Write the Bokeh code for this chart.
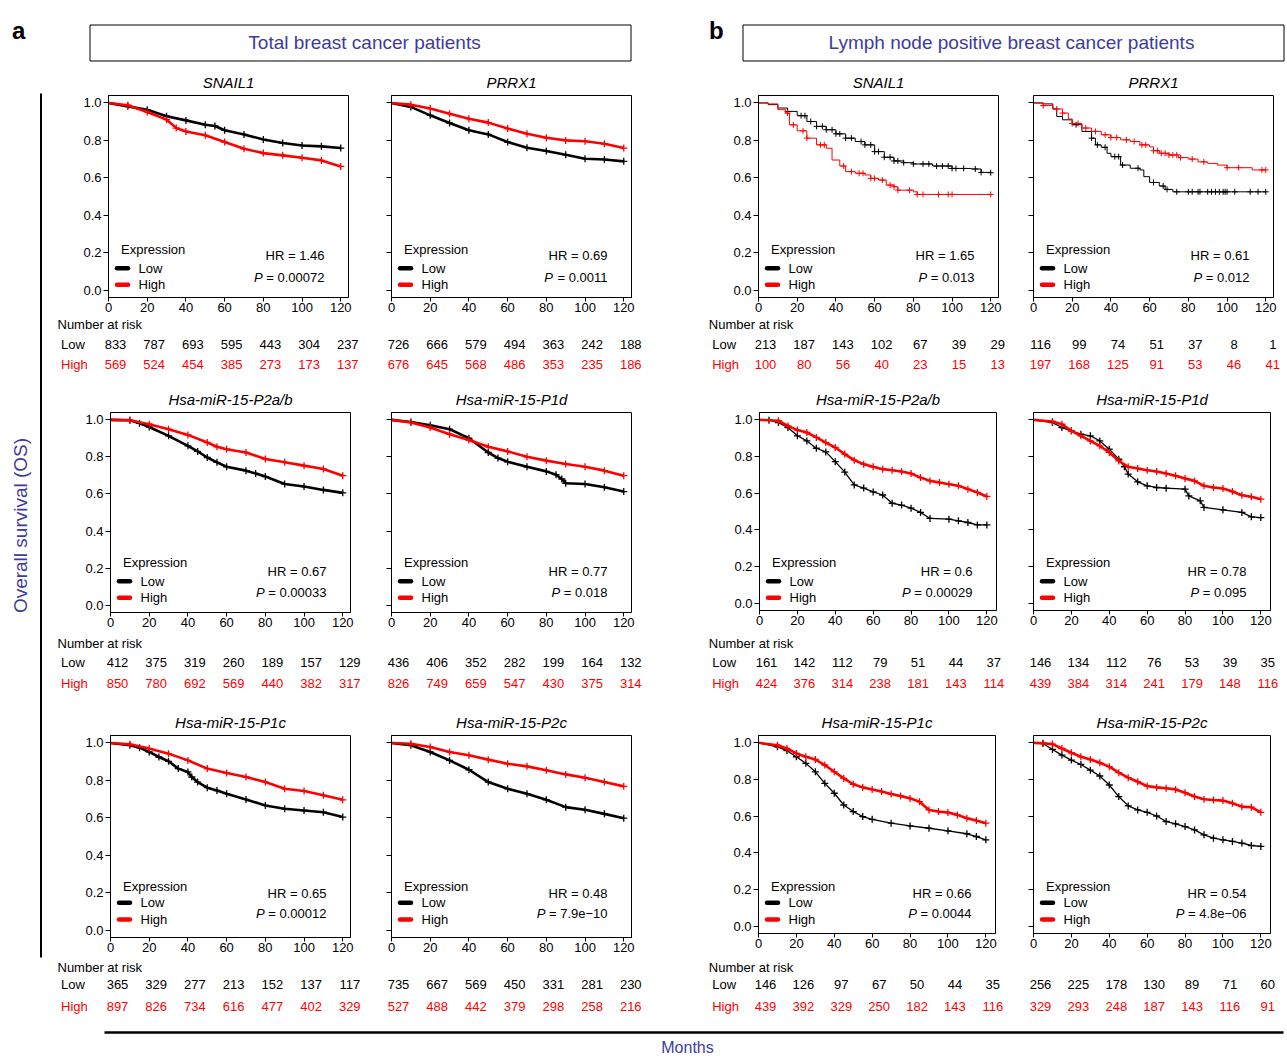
import math
from bokeh.plotting import figure
from bokeh.layouts import row, column
from bokeh.models import (Range1d, FixedTicker, NumeralTickFormatter, Label,
                          CustomJSTickFormatter)
from bokeh.embed import file_html
from bokeh.resources import INLINE
from bokeh.core.properties import value

# ------------------------------------------------------------------ data
group_letters = ["a", "b"]
group_titles = ["Total breast cancer patients",
                "Lymph node positive breast cancer patients"]
y_title = "Overall survival (OS)"
x_title = "Months"
months_ticks = [0, 20, 40, 60, 80, 100, 120]
surv_ticks = [0.0, 0.2, 0.4, 0.6, 0.8, 1.0]
series_names = ["Low", "High"]
legend_title = "Expression"
risk_title = "Number at risk"

# ---- a: total patients
a_snail1_low_t = [0, 10, 20, 30, 40, 50, 55, 60, 70, 80, 90, 100, 110, 120]
a_snail1_low_s = [1.0, 0.982, 0.964, 0.929, 0.907, 0.884, 0.877, 0.854, 0.832, 0.805, 0.786, 0.773, 0.768, 0.759]
a_snail1_high_t = [0, 10, 20, 30, 35, 40, 50, 60, 70, 80, 90, 100, 110, 120]
a_snail1_high_s = [1.0, 0.988, 0.952, 0.911, 0.866, 0.848, 0.827, 0.791, 0.755, 0.732, 0.72, 0.707, 0.693, 0.661]
a_snail1_risk_low = [833, 787, 693, 595, 443, 304, 237]
a_snail1_risk_high = [569, 524, 454, 385, 273, 173, 137]

a_prrx1_low_t = [0, 10, 20, 30, 40, 50, 60, 70, 80, 90, 100, 110, 120]
a_prrx1_low_s = [1.0, 0.979, 0.934, 0.893, 0.854, 0.832, 0.791, 0.761, 0.743, 0.723, 0.702, 0.698, 0.688]
a_prrx1_high_t = [0, 10, 20, 30, 40, 50, 60, 70, 80, 90, 100, 110, 120]
a_prrx1_high_s = [1.0, 0.991, 0.970, 0.943, 0.916, 0.895, 0.863, 0.836, 0.814, 0.80, 0.795, 0.782, 0.759]
a_prrx1_risk_low = [726, 666, 579, 494, 363, 242, 188]
a_prrx1_risk_high = [676, 645, 568, 486, 353, 235, 186]

a_p2ab_low_t = [0, 10, 15, 20, 30, 40, 45, 50, 55, 60, 70, 75, 80, 90, 100, 110, 120]
a_p2ab_low_s = [1.0, 0.998, 0.982, 0.962, 0.914, 0.860, 0.830, 0.797, 0.771, 0.747, 0.726, 0.711, 0.694, 0.654, 0.640, 0.622, 0.606]
a_p2ab_high_t = [0, 10, 20, 30, 40, 50, 55, 60, 70, 80, 90, 100, 110, 120]
a_p2ab_high_s = [1.0, 0.998, 0.977, 0.950, 0.919, 0.878, 0.855, 0.842, 0.824, 0.789, 0.771, 0.753, 0.735, 0.699]
a_p2ab_risk_low = [412, 375, 319, 260, 189, 157, 129]
a_p2ab_risk_high = [850, 780, 692, 569, 440, 382, 317]

a_p1d_low_t = [0, 10, 20, 30, 40, 50, 55, 60, 70, 80, 85, 88, 90, 100, 110, 120]
a_p1d_low_s = [1.0, 0.989, 0.971, 0.950, 0.901, 0.824, 0.794, 0.774, 0.747, 0.722, 0.704, 0.681, 0.658, 0.654, 0.636, 0.613]
a_p1d_high_t = [0, 10, 20, 30, 40, 50, 60, 70, 80, 90, 100, 110, 120]
a_p1d_high_s = [1.0, 0.986, 0.959, 0.923, 0.891, 0.855, 0.830, 0.801, 0.780, 0.762, 0.747, 0.726, 0.699]
a_p1d_risk_low = [436, 406, 352, 282, 199, 164, 132]
a_p1d_risk_high = [826, 749, 659, 547, 430, 375, 314]

a_p1c_low_t = [0, 10, 15, 20, 25, 30, 35, 40, 42, 45, 50, 55, 60, 70, 80, 90, 100, 110, 120]
a_p1c_low_s = [1.0, 0.988, 0.975, 0.952, 0.925, 0.902, 0.863, 0.845, 0.818, 0.791, 0.761, 0.746, 0.729, 0.698, 0.666, 0.648, 0.639, 0.63, 0.604]
a_p1c_high_t = [0, 10, 20, 30, 40, 50, 60, 70, 80, 90, 100, 110, 120]
a_p1c_high_s = [1.0, 0.993, 0.970, 0.943, 0.907, 0.863, 0.839, 0.818, 0.791, 0.755, 0.743, 0.72, 0.696]
a_p1c_risk_low = [365, 329, 277, 213, 152, 137, 117]
a_p1c_risk_high = [897, 826, 734, 616, 477, 402, 329]

a_p2c_low_t = [0, 10, 20, 30, 40, 50, 60, 70, 80, 90, 100, 110, 120]
a_p2c_low_s = [1.0, 0.988, 0.952, 0.907, 0.857, 0.791, 0.755, 0.729, 0.696, 0.657, 0.643, 0.621, 0.598]
a_p2c_high_t = [0, 10, 20, 30, 40, 50, 60, 70, 80, 90, 100, 110, 120]
a_p2c_high_s = [1.0, 0.996, 0.979, 0.952, 0.934, 0.911, 0.889, 0.875, 0.854, 0.832, 0.814, 0.791, 0.768]
a_p2c_risk_low = [735, 667, 569, 450, 331, 281, 230]
a_p2c_risk_high = [527, 488, 442, 379, 298, 258, 216]

# ---- b: lymph node positive patients
b_snail1_low_t = [0, 5, 10, 15, 20, 25, 30, 35, 40, 45, 50, 55, 60, 65, 70, 75, 80, 90, 100, 110, 115, 120]
b_snail1_low_s = [1.0, 0.991, 0.973, 0.955, 0.932, 0.901, 0.875, 0.857, 0.835, 0.812, 0.794, 0.776, 0.740, 0.710, 0.690, 0.681, 0.674, 0.663, 0.65, 0.647, 0.629, 0.627]
b_snail1_low_cens = [15, 22, 24, 27, 30, 33, 35, 38, 40, 42, 45, 48, 53, 55, 58, 60, 62, 65, 68, 70, 72, 75, 80, 85, 88, 92, 95, 98, 100, 102, 106, 112, 115, 120]
b_snail1_high_t = [0, 5, 10, 14, 16, 20, 25, 30, 35, 38, 42, 45, 50, 55, 58, 62, 66, 70, 72, 80, 82, 120]
b_snail1_high_s = [1.0, 0.995, 0.964, 0.946, 0.883, 0.851, 0.812, 0.776, 0.758, 0.695, 0.663, 0.633, 0.624, 0.615, 0.597, 0.588, 0.561, 0.552, 0.534, 0.525, 0.511, 0.511]
b_snail1_high_cens = [15, 18, 23, 25, 32, 34, 44, 48, 52, 54, 58, 60, 64, 68, 70, 72, 78, 82, 85, 93, 98, 100, 120]
b_snail1_risk_low = [213, 187, 143, 102, 67, 39, 29]
b_snail1_risk_high = [100, 80, 56, 40, 23, 15, 13]

b_prrx1_low_t = [0, 5, 10, 12, 15, 20, 25, 30, 32, 35, 38, 40, 45, 50, 55, 57, 60, 65, 68, 72, 120]
b_prrx1_low_s = [1.0, 0.995, 0.968, 0.928, 0.910, 0.884, 0.848, 0.812, 0.776, 0.763, 0.731, 0.713, 0.668, 0.651, 0.642, 0.606, 0.575, 0.556, 0.538, 0.525, 0.525]
b_prrx1_low_cens = [22, 30, 33, 37, 42, 44, 46, 54, 62, 67, 69, 74, 80, 82, 85, 86, 90, 92, 94, 96, 98, 99, 100, 104, 112, 116, 120]
b_prrx1_high_t = [0, 5, 10, 15, 18, 20, 25, 30, 35, 40, 45, 50, 55, 60, 62, 65, 70, 75, 80, 85, 90, 95, 100, 113, 120]
b_prrx1_high_s = [1.0, 0.986, 0.968, 0.946, 0.914, 0.890, 0.866, 0.848, 0.830, 0.815, 0.803, 0.794, 0.776, 0.765, 0.745, 0.731, 0.722, 0.708, 0.70, 0.685, 0.677, 0.668, 0.654, 0.642, 0.642]
b_prrx1_high_cens = [5, 12, 15, 20, 23, 27, 32, 37, 40, 43, 48, 52, 56, 58, 62, 64, 66, 68, 70, 72, 74, 76, 82, 88, 100, 106, 118, 120]
b_prrx1_risk_low = [116, 99, 74, 51, 37, 8, 1]
b_prrx1_risk_high = [197, 168, 125, 91, 53, 46, 41]

b_p2ab_low_t = [0, 5, 10, 15, 20, 25, 30, 35, 40, 45, 50, 55, 60, 65, 70, 75, 80, 85, 90, 100, 105, 110, 115, 120]
b_p2ab_low_s = [1.0, 0.998, 0.985, 0.958, 0.913, 0.885, 0.845, 0.825, 0.772, 0.715, 0.645, 0.628, 0.607, 0.590, 0.545, 0.535, 0.518, 0.495, 0.462, 0.458, 0.449, 0.44, 0.427, 0.427]
b_p2ab_high_t = [0, 10, 15, 20, 25, 30, 35, 40, 45, 50, 55, 60, 65, 70, 75, 80, 85, 90, 95, 100, 105, 110, 115, 120]
b_p2ab_high_s = [1.0, 0.995, 0.967, 0.944, 0.931, 0.904, 0.876, 0.849, 0.813, 0.78, 0.758, 0.744, 0.731, 0.725, 0.718, 0.707, 0.685, 0.667, 0.658, 0.649, 0.64, 0.622, 0.604, 0.582]
b_p2ab_risk_low = [161, 142, 112, 79, 51, 44, 37]
b_p2ab_risk_high = [424, 376, 314, 238, 181, 143, 114]

b_p1d_low_t = [0, 10, 15, 20, 25, 30, 35, 40, 45, 48, 50, 55, 60, 65, 70, 80, 82, 88, 90, 100, 110, 115, 120]
b_p1d_low_s = [1.0, 0.985, 0.958, 0.94, 0.922, 0.913, 0.885, 0.84, 0.785, 0.744, 0.704, 0.662, 0.64, 0.631, 0.627, 0.622, 0.585, 0.558, 0.522, 0.509, 0.495, 0.471, 0.467]
b_p1d_high_t = [0, 10, 15, 20, 25, 30, 35, 40, 45, 50, 55, 60, 65, 70, 75, 80, 85, 90, 95, 100, 105, 110, 115, 120]
b_p1d_high_s = [1.0, 0.991, 0.976, 0.94, 0.913, 0.885, 0.858, 0.822, 0.776, 0.744, 0.735, 0.725, 0.718, 0.707, 0.695, 0.68, 0.667, 0.64, 0.631, 0.625, 0.609, 0.589, 0.58, 0.567]
b_p1d_risk_low = [146, 134, 112, 76, 53, 39, 35]
b_p1d_risk_high = [439, 384, 314, 241, 179, 148, 116]

b_p1c_low_t = [0, 10, 15, 20, 25, 30, 35, 40, 45, 50, 55, 60, 70, 80, 90, 100, 110, 115, 120]
b_p1c_low_s = [1.0, 0.978, 0.957, 0.924, 0.888, 0.842, 0.779, 0.725, 0.661, 0.625, 0.598, 0.583, 0.562, 0.547, 0.534, 0.52, 0.504, 0.489, 0.471]
b_p1c_high_t = [0, 10, 15, 20, 25, 30, 35, 40, 45, 50, 55, 60, 65, 70, 75, 80, 85, 90, 95, 100, 105, 110, 115, 120]
b_p1c_high_s = [1.0, 0.987, 0.969, 0.942, 0.924, 0.909, 0.879, 0.842, 0.806, 0.774, 0.757, 0.746, 0.734, 0.721, 0.71, 0.697, 0.679, 0.634, 0.625, 0.62, 0.607, 0.589, 0.576, 0.562]
b_p1c_risk_low = [146, 126, 97, 67, 50, 44, 35]
b_p1c_risk_high = [439, 392, 329, 250, 182, 143, 116]

b_p2c_low_t = [0, 5, 10, 15, 20, 25, 30, 35, 40, 45, 50, 55, 60, 65, 70, 75, 80, 85, 90, 95, 100, 105, 110, 115, 120]
b_p2c_low_s = [1.0, 0.996, 0.964, 0.933, 0.906, 0.882, 0.851, 0.819, 0.770, 0.707, 0.656, 0.634, 0.621, 0.601, 0.571, 0.558, 0.543, 0.525, 0.498, 0.48, 0.471, 0.462, 0.453, 0.44, 0.435]
b_p2c_high_t = [0, 5, 10, 15, 20, 25, 30, 35, 40, 45, 50, 55, 60, 65, 70, 75, 80, 85, 90, 95, 100, 105, 110, 115, 120]
b_p2c_high_s = [1.0, 0.998, 0.993, 0.969, 0.946, 0.924, 0.909, 0.891, 0.870, 0.837, 0.81, 0.788, 0.764, 0.757, 0.752, 0.746, 0.728, 0.707, 0.692, 0.688, 0.685, 0.67, 0.652, 0.649, 0.621]
b_p2c_risk_low = [256, 225, 178, 130, 89, 71, 60]
b_p2c_risk_high = [329, 293, 248, 187, 143, 116, 91]

panel_genes = [["SNAIL1", "PRRX1", "SNAIL1", "PRRX1"],
               ["Hsa-miR-15-P2a/b", "Hsa-miR-15-P1d", "Hsa-miR-15-P2a/b", "Hsa-miR-15-P1d"],
               ["Hsa-miR-15-P1c", "Hsa-miR-15-P2c", "Hsa-miR-15-P1c", "Hsa-miR-15-P2c"]]
panel_hr = [["1.46", "0.69", "1.65", "0.61"],
            ["0.67", "0.77", "0.6", "0.78"],
            ["0.65", "0.48", "0.66", "0.54"]]
panel_p = [["0.00072", "0.0011", "0.013", "0.012"],
           ["0.00033", "0.018", "0.00029", "0.095"],
           ["0.00012", "7.9e\u221210", "0.0044", "4.8e\u221206"]]

# ------------------------------------------------------------------ styling / layout
FONT = "Liberation Sans"
BLUE = "#3c3ca0"
RED = "#ff0000"
BLACK = "#000000"

PAGE_W, PAGE_H = 1287, 1056
FIG_X = [50, 372, 645, 1010]
FIG_W = [322, 273, 365, 277]
ROW_TOP = [62, 385, 708]
ROW_H = [323, 323, 308]
AXIS_B = 20
FRAME = {
    (0, 0): (108, 95, 240, 202), (0, 1): (391, 95, 240, 202),
    (0, 2): (758, 95, 240, 202), (0, 3): (1033, 95, 240, 202),
    (1, 0): (110, 412, 240, 200), (1, 1): (391, 412, 240, 200),
    (1, 2): (759, 412, 237, 198), (1, 3): (1033, 412, 237, 198),
    (2, 0): (110, 735, 240, 202), (2, 1): (391, 735, 240, 202),
    (2, 2): (758, 735, 237, 198), (2, 3): (1033, 735, 237, 198),
}
TITLE_Y = [81.7, 399.3, 721.7]
LEG_Y = [(249, 267.7, 284.3), (561.7, 580.7, 597.3), (885.5, 902.2, 919)]
HR_Y = [(255, 276.7), (570.7, 591.7), (892.5, 913.2)]
RISK_Y = [(323.8, 344.3, 364), (642.7, 662, 683), (966.7, 984.2, 1006)]
RISK_LABEL_X = {0: (57, 60.5), 2: (708.3, 711.7)}
Y0, Y1 = -0.04, 1.04

CW = {'.': .278, '=': .584, ' ': .278, 'e': .556, '\u2212': .584, '-': .333}


def text_w(s, size):
    return sum(CW.get(ch, .556) for ch in s) * size


def step_at(ts, ss, c):
    v = ss[0]
    for t, s in zip(ts, ss):
        if t <= c:
            v = s
    return v


def S(name):
    return globals()[name]


panel_keys = [["a_snail1", "a_prrx1", "b_snail1", "b_prrx1"],
              ["a_p2ab", "a_p1d", "b_p2ab", "b_p1d"],
              ["a_p1c", "a_p2c", "b_p1c", "b_p2c"]]


def blank(width, height, x0, x1, y0, y1):
    f = figure(width=width, height=height, x_range=Range1d(x0, x1), y_range=Range1d(y0, y1),
               min_border=0, toolbar_location=None, output_backend="svg",
               x_axis_location=None, y_axis_location=None, frame_align=False)
    f.grid.visible = False
    f.outline_line_color = None
    f.background_fill_color = "white"
    f.border_fill_color = "white"
    return f


def make_panel(r, c):
    key = panel_keys[r][c]
    fl, ft, fw, fh = FRAME[(r, c)]
    fx, fy, W, H = FIG_X[c], ROW_TOP[r], FIG_W[c], ROW_H[r]
    bl = fl - fx
    br = W - bl - fw
    fb = ft + fh
    xend = 124.0 if fw == 240 else 125.1
    k = xend / fw                       # months per pixel
    ky = (Y1 - Y0) / fh                 # survival units per pixel
    title_h = ft - 1 - fy
    km_h = 1 + fh + AXIS_B
    risk_top = fy + title_h + km_h
    risk_h = H - title_h - km_h
    xr0, xr1 = -bl * k, (fw + br) * k

    # ---- title strip
    tf = blank(W, title_h, xr0, xr1, ft - 1, fy)
    tf.text(x=[xend / 2], y=[TITLE_Y[r]], text=[panel_genes[r][c]], text_font=value(FONT),
            text_font_size="15px", text_font_style="italic", text_color=BLACK,
            text_align="center", text_baseline="middle")

    # ---- Kaplan-Meier plot
    p = figure(width=W, height=km_h, x_range=Range1d(0, xend), y_range=Range1d(Y0, Y1),
               min_border_left=bl, min_border_right=br, min_border_top=1,
               min_border_bottom=AXIS_B, toolbar_location=None, output_backend="svg",
               frame_align=False)
    p.grid.visible = False
    p.outline_line_color = BLACK
    p.outline_line_alpha = 1.0
    p.outline_line_width = 1
    p.background_fill_color = "white"
    p.border_fill_color = "white"
    p.xaxis.ticker = FixedTicker(ticks=months_ticks)
    p.yaxis.ticker = FixedTicker(ticks=surv_ticks)
    p.yaxis.formatter = NumeralTickFormatter(format="0.0")
    for ax in p.axis:
        ax.major_tick_in = 0
        ax.minor_tick_line_color = None
        ax.axis_line_color = BLACK
        ax.major_tick_line_color = BLACK
        ax.major_label_text_font = FONT
        ax.major_label_text_font_size = "13px"
        ax.major_label_text_color = BLACK
    p.xaxis.major_tick_out = 4
    p.xaxis.major_label_standoff = 1
    p.yaxis.major_tick_out = 5
    p.yaxis.major_label_standoff = 2
    if c in (1, 3):
        p.yaxis.formatter = CustomJSTickFormatter(code="return ''")

    lt, ls = S(key + "_low_t"), S(key + "_low_s")
    ht, hs = S(key + "_high_t"), S(key + "_high_s")
    if r == 0 and c >= 2:
        for ts, ss, cens, col in ((lt, ls, S(key + "_low_cens"), BLACK),
                                  (ht, hs, S(key + "_high_cens"), RED)):
            p.step(ts, ss, mode="after", line_color=col, line_width=1)
            p.scatter(cens, [step_at(ts, ss, v) for v in cens], marker="cross",
                      size=6, line_color=col, line_width=1)
    else:
        wl = 2.6 if c < 2 else 1.3
        for ts, ss, col, w in ((lt, ls, BLACK, wl), (ht, hs, RED, 2.6)):
            p.line(ts, ss, line_color=col, line_width=w)
            p.scatter(ts[1:], ss[1:], marker="cross", size=7, line_color=col, line_width=1.3)

    # legend block
    ey, ly, hy = LEG_Y[r]
    p.add_layout(Label(x=12.5, y=fb - ey, x_units="screen", y_units="screen",
                       text=legend_title, text_font=FONT, text_font_size="13px",
                       text_baseline="middle", text_color=BLACK))
    for nm, yy, col in ((series_names[0], ly, BLACK), (series_names[1], hy, RED)):
        sy = Y0 + (fb - yy) * ky
        p.segment(x0=[8.5 * k], y0=[sy], x1=[19.5 * k], y1=[sy], line_color=col,
                  line_width=4.5, line_cap="round")
        p.add_layout(Label(x=30, y=fb - yy, x_units="screen", y_units="screen",
                           text=nm, text_font=FONT, text_font_size="13px",
                           text_baseline="middle", text_color=BLACK))
    # HR and P
    hr_y, p_y = HR_Y[r]
    right = fw - 24
    p.add_layout(Label(x=right, y=fb - hr_y, x_units="screen", y_units="screen",
                       text="HR = " + panel_hr[r][c], text_font=FONT, text_font_size="13px",
                       text_align="right", text_baseline="middle", text_color=BLACK))
    vtxt = "= " + panel_p[r][c]
    p.add_layout(Label(x=right, y=fb - p_y, x_units="screen", y_units="screen",
                       text=vtxt, text_font=FONT, text_font_size="13px",
                       text_align="right", text_baseline="middle", text_color=BLACK))
    p.add_layout(Label(x=right - text_w(vtxt, 13) - text_w(" ", 13), y=fb - p_y,
                       x_units="screen", y_units="screen", text="P", text_font=FONT,
                       text_font_size="13px", text_font_style="italic",
                       text_align="right", text_baseline="middle", text_color=BLACK))

    # ---- number-at-risk table (shares the month scale of the plot above)
    rf = blank(W, risk_h, xr0, xr1, fy + H, risk_top)
    ny, lowy, highy = RISK_Y[r]
    for vals, yy, col in ((S(key + "_risk_low"), lowy, BLACK),
                          (S(key + "_risk_high"), highy, RED)):
        rf.text(x=months_ticks, y=[yy] * len(months_ticks), text=[str(v) for v in vals],
                x_offset=7, text_font=value(FONT), text_font_size="13px", text_color=col,
                text_align="center", text_baseline="middle")
    if c in RISK_LABEL_X:
        nx, lx = RISK_LABEL_X[c]
        rf.text(x=[(nx - fl) * k], y=[ny], text=[risk_title], text_font=value(FONT),
                text_font_size="13px", text_color=BLACK, text_baseline="middle")
        rf.text(x=[(lx - fl) * k] * 2, y=[lowy, highy], text=series_names,
                text_font=value(FONT), text_font_size="13px", text_color=[BLACK, RED],
                text_baseline="middle")
    return column(tf, p, rf, spacing=0)


# header
hdr = blank(PAGE_W, 62, 0, PAGE_W, 62, 0)
hdr.quad(left=[89.5, 742.5], right=[630.5, 1283.5], top=[24.5, 24.5], bottom=[60.5, 60.5],
         fill_color=None, line_color=BLACK, line_width=1)
hdr.text(x=[364, 1011], y=[42, 42], text=group_titles, text_font=value(FONT),
         text_font_size="19px", text_color=BLUE, text_align="center", text_baseline="middle")
hdr.text(x=[11.5, 708.5], y=[30, 30], text=group_letters, text_font=value(FONT),
         text_font_size="24px", text_font_style="bold", text_color=BLACK,
         text_baseline="alphabetic")

# left strip
strip = blank(50, 954, 0, 50, 1016, 62)
strip.segment(x0=[40.5], y0=[93], x1=[40.5], y1=[957], line_color=BLACK, line_width=2)
strip.text(x=[20], y=[525], text=[y_title], angle=math.pi / 2, text_font=value(FONT),
           text_font_size="19px", text_color=BLUE, text_align="center", text_baseline="middle")

# footer
ftr = blank(PAGE_W, 40, 0, PAGE_W, 1056, 1016)
ftr.segment(x0=[104], y0=[1032], x1=[1283], y1=[1032], line_color=BLACK, line_width=2.5)
ftr.text(x=[687], y=[1047], text=[x_title], text_font=value(FONT), text_font_size="16px",
         text_color=BLUE, text_align="center", text_baseline="middle")

grid_rows = [row(*[make_panel(r, c) for c in range(4)], spacing=0) for r in range(3)]
page = column(hdr, row(strip, column(*grid_rows, spacing=0), spacing=0), ftr, spacing=0)

open("out.html", "w").write(file_html(page, INLINE))
